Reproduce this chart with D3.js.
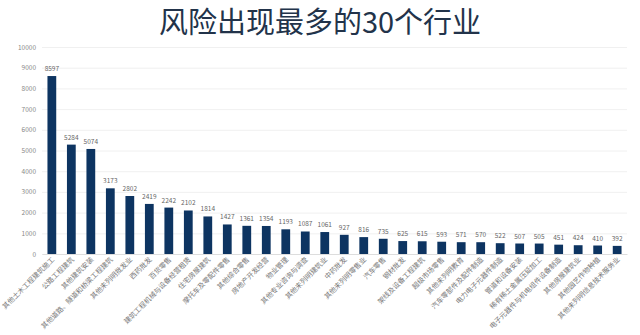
<!DOCTYPE html>
<html><head><meta charset="utf-8">
<script src="https://cdn.jsdelivr.net/npm/d3@7/dist/d3.min.js"></script>
<style>body{margin:0;background:#fff;}svg{display:block;}</style>
</head><body>
<svg id="c" width="640" height="335"></svg>
<script>
const categories = ["其他土木工程建筑施工","公路工程建筑","其他建筑安装","其他道路、隧道和桥梁工程建筑","其他未列明批发业","西药批发","百货零售","建筑工程机械与设备经营租赁","住宅房屋建筑","摩托车及零配件零售","其他综合零售","房地产开发经营","物业管理","其他专业咨询与调查","其他未列明建筑业","中药批发","其他未列明零售业","汽车零售","钢材批发","架线及设备工程建筑","超级市场零售","其他未列明教育","汽车零部件及配件制造","电力电子元器件制造","管道和设备安装","稀有稀土金属压延加工","电子元器件与机电组件设备制造","其他房屋建筑业","其他园艺作物种植","其他未列明信息技术服务业"];
const values = [8597,5284,5074,3173,2802,2419,2242,2102,1814,1427,1361,1354,1193,1087,1061,927,816,735,625,615,593,571,570,522,507,505,451,424,410,392];
const yTicks = [0,1000,2000,3000,4000,5000,6000,7000,8000,9000,10000];
const title = "风险出现最多的30个行业";

const svg = d3.select("#c");
const font = "'Noto Sans CJK SC','Noto Sans',sans-serif";
const mL = 42, mR = 627, mT = 47, mB = 254;
const x = d3.scaleBand().domain(categories).range([mL, mR]).paddingInner(0.55).paddingOuter(0.28);
const y = d3.scaleLinear().domain([0, 10000]).range([mB, mT]);

svg.append("text").attr("x", 320).attr("y", 33).attr("text-anchor", "middle")
  .attr("font-family", font).attr("font-size", 29).attr("fill", "#22334a").text(title);

const ya = svg.append("g").attr("transform", `translate(${mL},0)`)
  .call(d3.axisLeft(y).tickValues(yTicks).tickSize(-(mR - mL)).tickPadding(6).tickFormat(d3.format("d")));
ya.select(".domain").remove();
ya.selectAll(".tick line").attr("stroke", "#ececec").attr("stroke-width", 0.8);
ya.selectAll(".tick text").attr("font-family", font).attr("font-size", 6.5).attr("fill", "#888");

svg.append("g").selectAll("rect").data(values).join("rect")
  .attr("x", (d, i) => x(categories[i])).attr("width", x.bandwidth())
  .attr("y", d => y(d)).attr("height", d => y(0) - y(d)).attr("fill", "#0d3461");

svg.append("g").selectAll("text").data(values).join("text")
  .attr("x", (d, i) => x(categories[i]) + x.bandwidth() / 2).attr("y", d => y(d) - 5)
  .attr("text-anchor", "middle").attr("font-family", font).attr("font-size", 6.5).attr("fill", "#666").text(d => d);

const xa = svg.append("g").attr("transform", `translate(0,${mB})`)
  .call(d3.axisBottom(x).tickSize(0).tickPadding(0));
xa.select(".domain").attr("stroke", "#dddddd");
xa.selectAll(".tick text").attr("font-family", font).attr("font-size", 7).attr("fill", "#777")
  .attr("text-anchor", "end").attr("dy", 0)
  .attr("transform", "translate(3,6) rotate(-45)");
</script>
</body></html>
